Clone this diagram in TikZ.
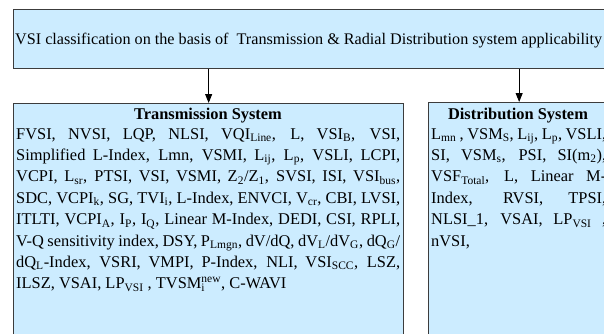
\documentclass[tikz,border=0pt]{standalone}
\usepackage{fontspec}
\setmainfont{Liberation Serif}
\usetikzlibrary{arrows.meta}
\definecolor{skyfill}{RGB}{204,236,255}
\definecolor{edgegray}{RGB}{60,60,60}
\tikzset{
  panel/.style={draw=edgegray, line width=1.3pt, fill=skyfill, inner sep=0pt, anchor=north west},
  arr/.style={-{Triangle[length=9pt,width=7pt]}, line width=1pt, black},
  bodytext/.style={anchor=base west, inner sep=0pt},
  headtext/.style={anchor=base, inner sep=0pt, font=\fontsize{16.4}{19}\selectfont\bfseries},
}
\begin{document}
\begin{tikzpicture}[x=1pt,y=-1pt]
\clip (0,0) rectangle (604,333);
\node[panel, minimum width=620pt, minimum height=59pt] (top) at (13,9) {};
\node[anchor=base west, inner sep=0pt] (toptext) at (15,44)
  {\resizebox{587pt}{!}{\fontsize{16}{19}\selectfont VSI classification on the basis of\ \ Transmission \& Radial Distribution system applicability}};
\node[panel, minimum width=390pt, minimum height=260pt] (trans) at (13,103) {};
\node[panel, minimum width=181pt, minimum height=260pt] (dist) at (428,102) {};
\node[headtext] (ttitle) at (208,119) {Transmission System};
\node[headtext] (dtitle) at (518,119) {Distribution System};
\node[bodytext] (tbody) at (16,139) {\begin{minipage}[t]{384pt}\fontsize{16.4}{21.4}\selectfont\hyphenpenalty=10000
FVSI, NVSI, LQP, NLSI, VQI\textsubscript{Line}, L, VSI\textsubscript{B}, VSI,\linebreak
Simplified L-Index, Lmn, VSMI, L\textsubscript{ij}, L\textsubscript{p}, VSLI, LCPI,\linebreak
VCPI, L\textsubscript{sr}, PTSI, VSI, VSMI, Z\textsubscript{2}/Z\textsubscript{1}, SVSI, ISI, VSI\textsubscript{bus},\linebreak
SDC, VCPI\textsubscript{k}, SG, TVI\textsubscript{i}, L-Index, ENVCI, V\textsubscript{cr}, CBI, LVSI,\linebreak
ITLTI, VCPI\textsubscript{A}, I\textsubscript{P}, I\textsubscript{Q}, Linear M-Index, DEDI, CSI, RPLI,\linebreak
V-Q sensitivity index, DSY, P\textsubscript{Lmgn}, dV/dQ, dV\textsubscript{L}/dV\textsubscript{G}, dQ\textsubscript{G}/\linebreak
dQ\textsubscript{L}-Index, VSRI, VMPI, P-Index, NLI, VSI\textsubscript{SCC}, LSZ,\linebreak
ILSZ, VSAI, LP\textsubscript{VSI} , TVSM\rlap{\textsubscript{i}}\textsuperscript{new}, C-WAVI
\end{minipage}};
\node[bodytext] (dbody) at (431,139) {\begin{minipage}[t]{175pt}\fontsize{16.4}{21.4}\selectfont\hyphenpenalty=10000
L\textsubscript{mn} , VSM\textsubscript{S}, L\textsubscript{ij}, L\textsubscript{p}, VSLI,\linebreak
SI, VSM\textsubscript{s}, PSI, SI(m\textsubscript{2}),\linebreak
VSF\textsubscript{Total}, L, Linear M-\linebreak
Index, RVSI, TPSI,\linebreak
NLSI\_1, VSAI, LP\textsubscript{VSI} ,\linebreak
nVSI,
\end{minipage}};
\draw[arr] (top.south -| trans.north) -- (trans.north);
\draw[arr] (top.south -| dist.north) -- (dist.north);
\end{tikzpicture}
\end{document}
